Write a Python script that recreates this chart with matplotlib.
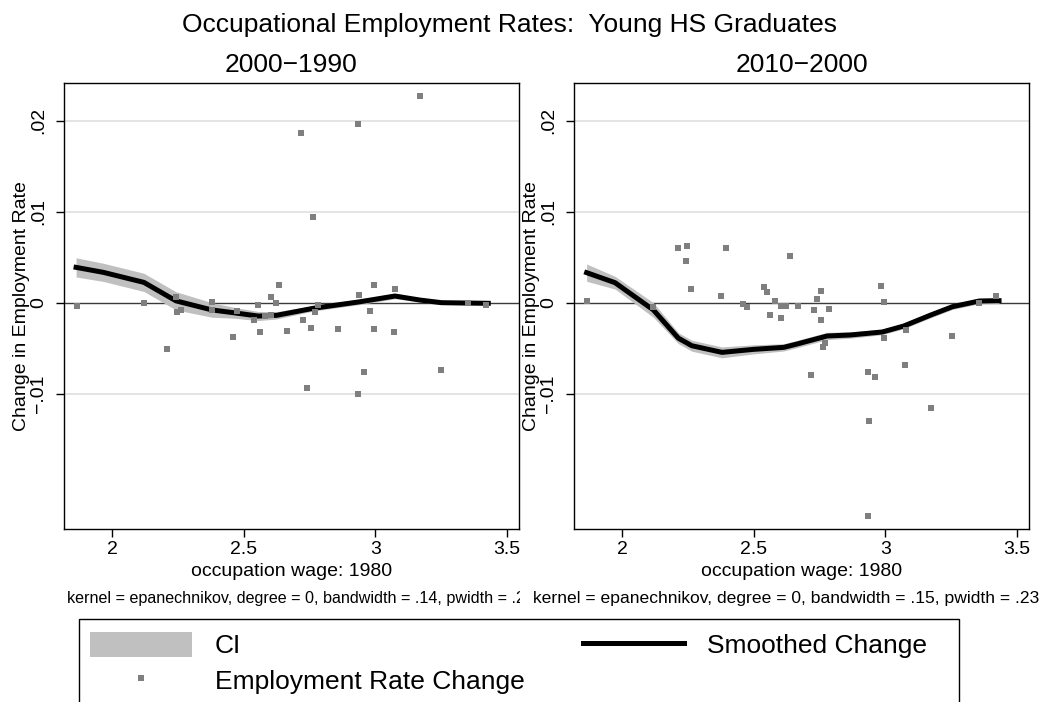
import matplotlib
matplotlib.use("Agg")
import matplotlib.pyplot as plt
from matplotlib.lines import Line2D
from matplotlib.patches import Patch, Rectangle
from matplotlib.transforms import Bbox, TransformedBbox

plt.rcParams['font.family'] = ['Liberation Sans', 'DejaVu Sans']

# occupation wage (1980) and change in employment rate, 2000-1990
wage_90 = [1.864, 2.120, 2.207, 2.242, 2.245, 2.260, 2.379, 2.379, 2.460, 2.474,
           2.539, 2.553, 2.560, 2.579, 2.603, 2.605, 2.622, 2.635, 2.665, 2.716,
           2.727, 2.739, 2.755, 2.762, 2.771, 2.783, 2.859, 2.934, 2.935, 2.939,
           2.959, 2.982, 2.994, 2.994, 3.070, 3.076, 3.172, 3.250, 3.354, 3.421]
chg_90 = [-0.00037, 0.00000, -0.00513, 0.00066, -0.00099, -0.00080, 0.00004, -0.00080, -0.00374, -0.00088,
          -0.00190, -0.00030, -0.00326, -0.00143, -0.00140, 0.00059, 0.00000, 0.00194, -0.00311, 0.01860,
          -0.00187, -0.00938, -0.00282, 0.00945, -0.00106, -0.00030, -0.00289, 0.01967, -0.01000, 0.00080,
          -0.00762, -0.00095, 0.00190, -0.00286, -0.00319, 0.00147, 0.02275, -0.00740, 0.00000, -0.00026]

# local polynomial smooth and its confidence band, 2000-1990
grid_90 = [1.862, 1.966, 2.120, 2.242, 2.379, 2.460, 2.555, 2.625, 2.764, 2.942,
           3.075, 3.170, 3.252, 3.430]
fit_90 = [0.00388, 0.00333, 0.00223, 0.00020, -0.00080, -0.00110, -0.00147, -0.00139, -0.00062, 0.00010,
          0.00073, 0.00029, 0.00000, -0.00007]
ci_lo_90 = [0.00283, 0.00233, 0.00123, -0.00080, -0.00160, -0.00170, -0.00197, -0.00179, -0.00092, -0.00020,
            0.00043, 0.00009, -0.00020, -0.00027]
ci_hi_90 = [0.00493, 0.00433, 0.00323, 0.00120, 0.00000, -0.00050, -0.00097, -0.00099, -0.00032, 0.00040,
            0.00103, 0.00049, 0.00020, 0.00013]

# change in employment rate, 2010-2000
wage_00 = [1.864, 2.118, 2.210, 2.243, 2.244, 2.260, 2.376, 2.394, 2.459, 2.474,
           2.539, 2.551, 2.563, 2.579, 2.604, 2.605, 2.624, 2.637, 2.667, 2.718,
           2.729, 2.742, 2.755, 2.756, 2.762, 2.771, 2.785, 2.936, 2.936, 2.939,
           2.962, 2.983, 2.996, 2.997, 3.074, 3.078, 3.174, 3.253, 3.357, 3.423]
chg_00 = [0.00022, -0.00044, 0.00600, 0.00462, 0.00626, 0.00154, 0.00073, 0.00604, -0.00015, -0.00048,
          0.00176, 0.00114, -0.00139, 0.00015, -0.00033, -0.00165, -0.00037, 0.00516, -0.00037, -0.00799,
          -0.00077, 0.00037, -0.00187, 0.00128, -0.00491, -0.00447, -0.00073, -0.00758, -0.02343, -0.01296,
          -0.00813, 0.00183, -0.00385, 0.00011, -0.00681, -0.00300, -0.01160, -0.00363, -0.00007, 0.00077]

grid_00 = [1.864, 1.972, 2.118, 2.213, 2.264, 2.379, 2.499, 2.614, 2.665, 2.779,
           2.868, 2.989, 3.071, 3.173, 3.256, 3.357, 3.433]
fit_00 = [0.00330, 0.00220, -0.00080, -0.00390, -0.00473, -0.00546, -0.00513, -0.00491, -0.00454, -0.00366,
          -0.00355, -0.00322, -0.00256, -0.00136, -0.00044, 0.00018, 0.00022]
ci_lo_00 = [0.00235, 0.00150, -0.00160, -0.00450, -0.00533, -0.00606, -0.00563, -0.00531, -0.00494, -0.00406,
            -0.00390, -0.00352, -0.00286, -0.00166, -0.00074, -0.00012, -0.00008]
ci_hi_00 = [0.00425, 0.00290, 0.00000, -0.00330, -0.00413, -0.00486, -0.00463, -0.00451, -0.00414, -0.00326,
            -0.00320, -0.00292, -0.00226, -0.00106, -0.00014, 0.00048, 0.00052]

yticks = [-0.01, 0.0, 0.01, 0.02]
ytick_labels = ['\u2212.01', '0', '.01', '.02']
xticks = [2, 2.5, 3, 3.5]
xtick_labels = ['2', '2.5', '3', '3.5']

W, H = 1044, 702
POINT_GREY = '#7f7f7f'
BAND_GREY = '#c0c0c0'


def px_box(x0, y0, x1, y1):
    return [x0 / W, 1 - y1 / H, (x1 - x0) / W, (y1 - y0) / H]


def draw_panel(ax, x, y, grid, fit, lo, hi, subtitle):
    for v in yticks:
        if v != 0:
            ax.axhline(v, color='#e2e2e2', lw=1.3, zorder=0)
    ax.axhline(0, color='#3a3a3a', lw=1.0, zorder=1)
    ax.fill_between(grid, lo, hi, color=BAND_GREY, lw=0, zorder=2)
    ax.plot(grid, fit, color='black', lw=3.6, zorder=3, solid_joinstyle='round')
    ax.scatter(x, y, marker='s', s=14, color=POINT_GREY, lw=0, zorder=4)

    ax.set_xlim(1.816, 3.547)
    ax.set_ylim(-0.02487, 0.02414)
    ax.set_xticks(xticks)
    ax.set_xticklabels(xtick_labels)
    ax.set_yticks(yticks)
    ax.set_yticklabels(ytick_labels, rotation=90, va='center')
    ax.tick_params(axis='both', direction='out', length=6, width=1, labelsize=14)
    ax.tick_params(axis='x', pad=3)
    ax.tick_params(axis='y', pad=6)
    for s in ax.spines.values():
        s.set_linewidth(1.0)
        s.set_color('black')

    ax.set_ylabel('Change in Employment Rate', fontsize=14)
    ax.yaxis.set_label_coords(-0.075, 0.5)
    ax.set_xlabel('occupation wage: 1980', fontsize=14, va='center')
    ax.xaxis.set_label_coords(0.5, -0.0964)
    ax.text(0.5, (529 - 65) / 446, subtitle, transform=ax.transAxes,
            ha='center', va='center', fontsize=19)


fig = plt.figure(figsize=(W / 100, H / 100), dpi=100)
ax1 = fig.add_axes(px_box(64, 83, 519, 529))
ax2 = fig.add_axes(px_box(574, 83, 1029, 529))

draw_panel(ax1, wage_90, chg_90, grid_90, fit_90, ci_lo_90, ci_hi_90, '2000\u22121990')
draw_panel(ax2, wage_00, chg_00, grid_00, fit_00, ci_lo_00, ci_hi_00, '2010\u22122000')

fig.text(509 / W, 1 - 25 / H, 'Occupational Employment Rates:  Young HS Graduates',
         ha='center', va='center', fontsize=19)

# lpoly notes under each panel; the left one runs into the next panel and is cut off
note1 = fig.text(67 / W, 1 - 598 / H,
                 'kernel = epanechnikov, degree = 0, bandwidth = .14, pwidth = .2',
                 ha='left', va='center', fontsize=11.6)
note1.set_clip_box(TransformedBbox(Bbox([[0, 0], [520 / W, 1]]), fig.transFigure))
note1.set_clip_on(True)
fig.text(533 / W, 1 - 598 / H,
         'kernel = epanechnikov, degree = 0, bandwidth = .15, pwidth = .23',
         ha='left', va='center', fontsize=12.6)

# shared legend, its box runs off the bottom edge
handles = [Patch(color=BAND_GREY, lw=0),
           Line2D([], [], marker='s', ls='', color=POINT_GREY, markersize=3.7, markeredgewidth=0),
           Line2D([], [], color='black', lw=3.6)]
labels = ['CI', 'Employment Rate Change', 'Smoothed Change']
fig.legend(handles, labels, ncol=2, loc='upper left',
           bbox_to_anchor=(90 / W, 1 - 632 / H), borderaxespad=0, borderpad=0,
           frameon=False, fontsize=19, handlelength=3.86, handleheight=1.06,
           handletextpad=0.87, columnspacing=2.2, labelspacing=0.36)
fig.add_artist(Rectangle((79 / W, 1 - 720 / H), 880 / W, 101 / H,
                         transform=fig.transFigure, fill=False, ec='black', lw=1.0,
                         clip_on=False))

fig.savefig('out.png', dpi=100)
